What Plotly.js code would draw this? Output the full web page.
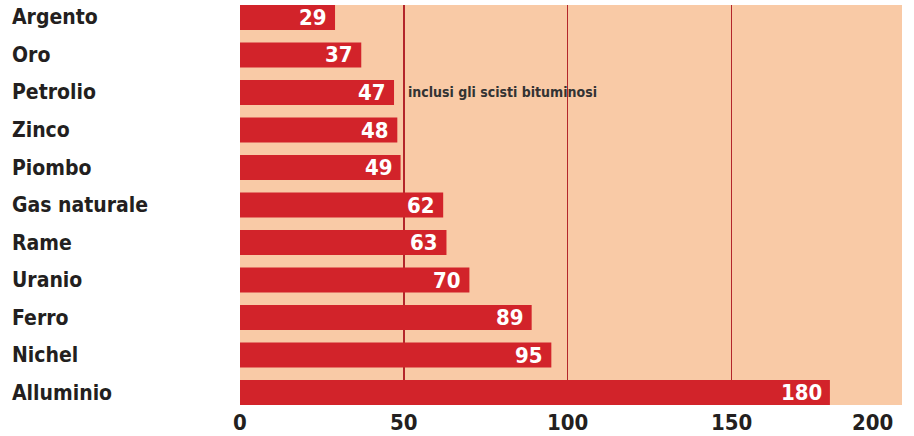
<!DOCTYPE html>
<html>
<head>
<meta charset="utf-8">
<script src="https://cdn.plot.ly/plotly-3.0.1.min.js"></script>
<style>html,body{margin:0;padding:0;background:#fff;}#chart{width:914px;height:436px;}</style>
</head>
<body>
<div id="chart"></div>
<script>
const categories = ["Argento","Oro","Petrolio","Zinco","Piombo","Gas naturale","Rame","Uranio","Ferro","Nichel","Alluminio"];
const values = [29,37,47,48,49,62,63,70,89,95,180];
const xTicks = [0,50,100,150,200];
const noteText = "inclusi gli scisti bituminosi";
const noteCategory = "Petrolio";
const noteValue = 50;

const FONT = '"DejaVu Sans Condensed", "Liberation Sans Narrow", "DejaVu Sans", sans-serif';
const TEXT = '#231f20';

const annotations = [];
categories.forEach((c, i) => {
  annotations.push({xref:'paper', yref:'y', x:-230/662, y:c, text:c, showarrow:false,
    xanchor:'left', yanchor:'middle', font:{family:FONT, size:21, weight:'bold', color:TEXT}});
  annotations.push({xref:'x', yref:'y', x:values[i], y:c, text:String(values[i]), showarrow:false,
    xanchor:'right', yanchor:'middle', xshift:-6, font:{family:FONT, size:22, weight:'bold', color:'#ffffff'}});
});
xTicks.forEach((t, i) => {
  annotations.push({xref:'x', yref:'paper', x:t, y:0, yshift:-3, text:String(t), showarrow:false,
    xanchor: i === xTicks.length-1 ? 'right' : 'center', yanchor:'top',
    font:{family:FONT, size:22, weight:'bold', color:TEXT}});
});
annotations.push({xref:'x', yref:'y', x:noteValue, y:noteCategory, xshift:2, text:noteText, showarrow:false,
  xanchor:'left', yanchor:'middle', font:{family:FONT, size:14, weight:'bold', color:'#333333'}});

const trace = {
  type:'bar', orientation:'h', x:values, y:categories,
  marker:{color:'#d2232a', line:{width:0}},
  hoverinfo:'none'
};

const layout = {
  width:914, height:436,
  margin:{l:240, r:12, t:5, b:31, pad:0},
  paper_bgcolor:'#ffffff', plot_bgcolor:'#f9caa6',
  bargap:0.333,
  showlegend:false,
  xaxis:{range:[0,202], tickvals:[50,100,150], showticklabels:false, showgrid:true,
    gridcolor:'#b3262b', gridwidth:1.5, zeroline:false, showline:false, ticks:''},
  yaxis:{type:'category', categoryorder:'array', categoryarray:categories,
    range:[10.333,-0.333], showticklabels:false, showgrid:false, zeroline:false, showline:false, ticks:''},
  annotations:annotations
};

Plotly.newPlot('chart', [trace], layout, {staticPlot:true, displayModeBar:false});
</script>
</body>
</html>
